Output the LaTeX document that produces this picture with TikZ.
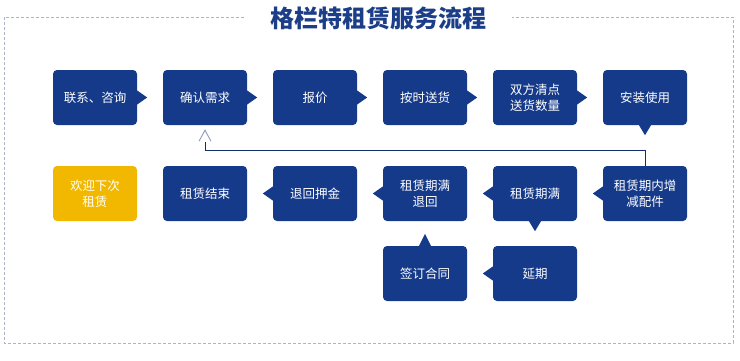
\documentclass[tikz,border=0pt]{standalone}
\usepackage{fontspec}
\newfontfamily\cjk{Noto Sans CJK SC}
\definecolor{navy}{RGB}{22,58,138}
\definecolor{gold}{RGB}{242,184,0}
\definecolor{framegray}{RGB}{170,180,198}
\definecolor{titleblue}{RGB}{28,62,136}
\begin{document}
\begin{tikzpicture}[x=1pt, y=-1pt, font=\cjk\fontsize{12.5}{16}\selectfont,
  box/.style={rectangle,rounded corners=4pt,fill=navy,text=white,minimum width=84pt,minimum height=55pt,inner sep=0pt,align=center},
  endbox/.style={box,fill=gold},
  ptr/.style={fill=navy},
  fbline/.style={draw=navy!80!black,line width=0.9pt},
  chev/.style={draw=framegray!80!navy,line width=0.9pt}]
\useasboundingbox (0,0) rectangle (740,360);
% frame and title
\draw[framegray, line width=0.9pt, dash pattern=on 3pt off 2pt] (4,17) rectangle (733,343);
\node[fill=white, inner xsep=26pt, inner ysep=2pt, text=titleblue, font=\cjk\bfseries\fontsize{24}{27}\selectfont] (title) at (378,18) {格栏特租赁服务流程};
% top row
\node[box] (lx) at (95,97.5) {联系、咨询};
\node[box] (qr) at (205,97.5) {确认需求};
\node[box] (bj) at (315,97.5) {报价};
\node[box] (ss) at (425,97.5) {按时送货};
\node[box] (qd) at (535,97.5) {双方清点\\送货数量};
\node[box] (az) at (645,97.5) {安装使用};
% middle row
\node[endbox] (hy) at (95,193.5) {欢迎下次\\租赁};
\node[box] (js) at (205,193.5) {租赁结束};
\node[box] (th) at (315,193.5) {退回押金};
\node[box] (mt) at (425,193.5) {租赁期满\\退回};
\node[box] (mm) at (535,193.5) {租赁期满};
\node[box] (zj) at (645,193.5) {租赁期内增\\减配件};
% bottom row
\node[box] (ht) at (425,273.5) {签订合同};
\node[box] (yq) at (535,273.5) {延期};
% pointers
\foreach \b in {lx,qr,bj,ss,qd}
  \fill[ptr] ([yshift=7pt]\b.east) -- ([xshift=10pt]\b.east) -- ([yshift=-7pt]\b.east) -- cycle;
\foreach \b in {th,mt,mm,zj,yq}
  \fill[ptr] ([yshift=7pt]\b.west) -- ([xshift=-10pt]\b.west) -- ([yshift=-7pt]\b.west) -- cycle;
\fill[ptr] ([xshift=-6pt]az.south) -- ([yshift=-10pt]az.south) -- ([xshift=6pt]az.south) -- cycle;
\fill[ptr] ([xshift=-6pt]mm.south) -- ([yshift=-10pt]mm.south) -- ([xshift=6pt]mm.south) -- cycle;
\fill[ptr] ([xshift=-6pt]ht.north) -- ([yshift=12pt]ht.north) -- ([xshift=6pt]ht.north) -- cycle;
% back to confirm
\coordinate (fbend) at ([yshift=-17pt]qr.south);
\draw[fbline] (zj.north) -- ++(0,-15) -| (fbend);
\draw[chev] ([xshift=-6pt,yshift=-16pt]qr.south) -- ([yshift=-5pt]qr.south) -- ([xshift=6pt,yshift=-16pt]qr.south);
\end{tikzpicture}
\end{document}
